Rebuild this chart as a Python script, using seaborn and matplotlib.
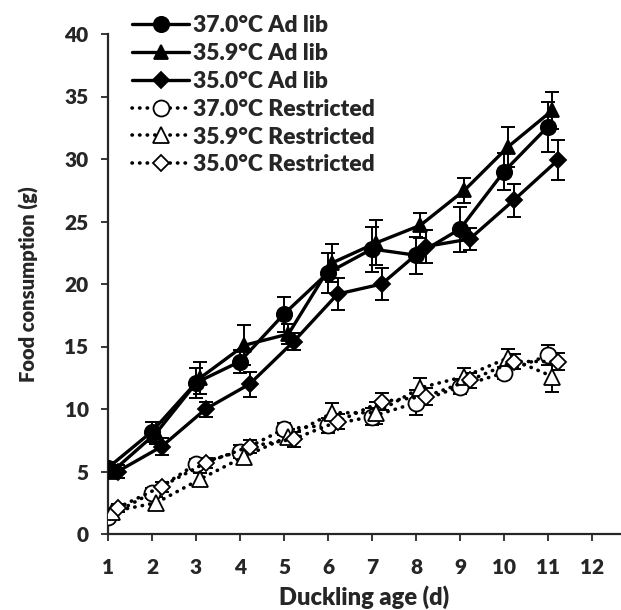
import numpy as np
import pandas as pd
import matplotlib
matplotlib.use("Agg")
import matplotlib.pyplot as plt
import seaborn as sns
from matplotlib.lines import Line2D

days = [1, 2, 3, 4, 5, 6, 7, 8, 9, 10, 11]

adlib_370 = [5.3, 8.2, 12.1, 13.8, 17.6, 20.9, 22.8, 22.3, 24.4, 29.0, 32.6]
adlib_370_se = [0.5, 0.8, 1.2, 0.9, 1.4, 1.6, 1.8, 1.5, 1.8, 1.5, 2.0]
adlib_359 = [5.0, 8.1, 12.5, 15.1, 16.0, 21.7, 23.3, 24.7, 27.5, 31.0, 33.9]
adlib_359_se = [0.4, 0.9, 1.3, 1.6, 0.8, 1.5, 1.8, 1.0, 1.0, 1.6, 1.5]
adlib_350 = [5.0, 7.0, 10.0, 12.0, 15.4, 19.2, 20.0, 23.0, 23.6, 26.7, 29.9]
adlib_350_se = [0.5, 0.7, 0.6, 1.0, 0.7, 1.3, 1.3, 1.3, 0.9, 1.3, 1.6]

restr_370 = [1.4, 3.3, 5.6, 6.6, 8.4, 8.7, 9.4, 10.5, 11.8, 12.9, 14.3]
restr_370_se = [0.3, 0.4, 0.4, 0.5, 0.5, 0.6, 0.7, 1.0, 0.6, 0.5, 0.8]
restr_359 = [1.8, 2.5, 4.4, 6.2, 7.8, 9.7, 9.7, 11.7, 12.6, 14.1, 12.6]
restr_359_se = [0.3, 0.5, 0.5, 0.6, 0.6, 0.8, 0.9, 0.8, 0.7, 0.7, 1.2]
restr_350 = [2.1, 3.8, 5.7, 7.0, 7.6, 9.0, 10.6, 11.0, 12.3, 13.8, 13.8]
restr_350_se = [0.3, 0.4, 0.4, 0.5, 0.6, 0.6, 0.7, 0.7, 0.6, 0.6, 0.7]

labels = ["37.0°C Ad lib", "35.9°C Ad lib", "35.0°C Ad lib",
          "37.0°C Restricted", "35.9°C Restricted", "35.0°C Restricted"]

x_ticks = [1, 2, 3, 4, 5, 6, 7, 8, 9, 10, 11, 12]
y_ticks = [0, 5, 10, 15, 20, 25, 30, 35, 40]

sns.set_style("ticks")
FAM = ['Lato', 'DejaVu Sans']
plt.rcParams['font.family'] = FAM
plt.rcParams['font.weight'] = 'bold'
W = 'heavy'

fig = plt.figure(figsize=(6.21, 6.10), dpi=100)
ax = fig.add_axes([108 / 621, 1 - 534 / 610, 1 - 108 / 621 - 0.002, (534 - 34) / 610])

series = [
    (labels[0], adlib_370, adlib_370_se, "o", "black", "-", 0.0, 11),
    (labels[1], adlib_359, adlib_359_se, "^", "black", "-", 0.1, 10.5),
    (labels[2], adlib_350, adlib_350_se, "D", "black", "-", 0.22, 8),
    (labels[3], restr_370, restr_370_se, "o", "white", ":", 0.0, 11.5),
    (labels[4], restr_359, restr_359_se, "^", "white", ":", 0.1, 11),
    (labels[5], restr_350, restr_350_se, "D", "white", ":", 0.22, 8.5),
]

handles = []
for lab, vals, se, mk, fc, ls, dx, ms in series:
    df = pd.DataFrame({"day": np.array(days) + dx, "val": vals})
    kw = dict(color="black", lw=2.4, marker=mk, markersize=ms,
              markerfacecolor=fc, markeredgecolor="black", markeredgewidth=1.3)
    if ls == ":":
        kw.update(lw=2.6, linestyle=(0, (0.1, 2.0)), dash_capstyle="round")
    sns.lineplot(data=df, x="day", y="val", ax=ax, zorder=3, **kw)
    ax.errorbar(df["day"], vals, yerr=se, fmt="none", ecolor="black",
                elinewidth=1.4, capsize=5, capthick=1.4, zorder=2)
    handles.append(Line2D([], [], label=lab, **kw))

ax.set_xlim(1, 12.63)
ax.set_ylim(0, 40)
ax.set_xticks(x_ticks)
ax.set_yticks(y_ticks)
ax.tick_params(axis="both", direction="out", length=5, width=1.3, labelsize=15)
ax.tick_params(axis="x", pad=12)
ax.tick_params(axis="y", pad=9)
for t in ax.get_xticklabels() + ax.get_yticklabels():
    t.set_fontweight(W)
for s in ["left", "bottom"]:
    ax.spines[s].set_linewidth(1.6)
sns.despine(ax=ax)
ax.set_xlabel("Duckling age (d)", fontsize=17, fontweight=W, labelpad=6)
ax.set_ylabel("Food consumption (g)", fontsize=14.5, fontweight=W, labelpad=18)

leg = ax.legend(handles=handles, loc="upper left", bbox_to_anchor=(0.047, 1.038),
                frameon=False, handlelength=2.5, handletextpad=0.15,
                labelspacing=0.3, borderaxespad=0, borderpad=0,
                prop={"family": FAM, "weight": W, "size": 16.5})

fig.savefig("out.png", dpi=100)
